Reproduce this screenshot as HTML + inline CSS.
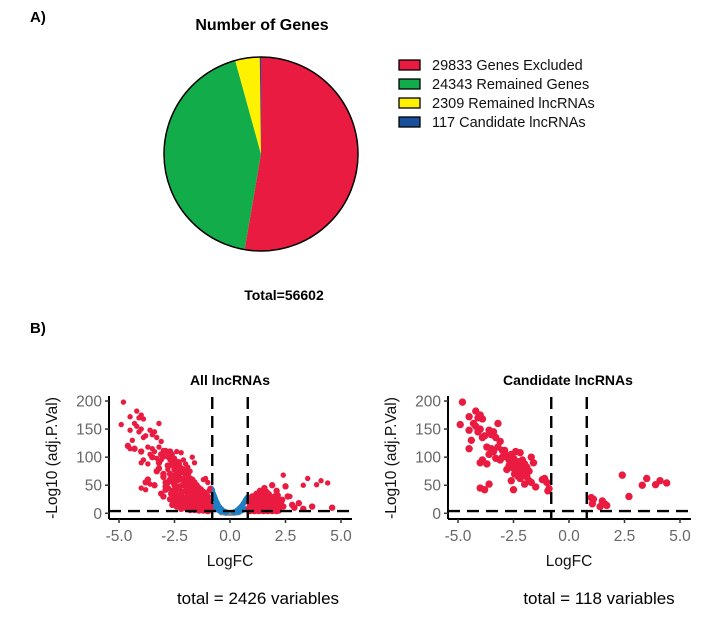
<!DOCTYPE html>
<html><head><meta charset="utf-8"><style>
body{margin:0;background:#fff}
svg{display:block;font-family:"Liberation Sans",Arial,sans-serif}
</style></head><body>
<svg id="fig" width="712" height="626" viewBox="0 0 712 626">
<text x="30" y="22" font-size="15" font-weight="bold">A)</text>
<text x="262" y="30" font-size="16" font-weight="bold" text-anchor="middle">Number of Genes</text>
<g id="pie"></g>
<g id="legend"></g>
<text x="284" y="300" font-size="14" font-weight="bold" text-anchor="middle">Total=56602</text>
<text x="30" y="333" font-size="15" font-weight="bold">B)</text>
<text x="230" y="385" font-size="14" font-weight="bold" text-anchor="middle">All lncRNAs</text>
<text x="568" y="385" font-size="14" font-weight="bold" text-anchor="middle">Candidate lncRNAs</text>
<g id="left"></g>
<g id="right"></g>
<text x="258" y="604" font-size="17" text-anchor="middle">total = 2426 variables</text>
<text x="599" y="604" font-size="17" text-anchor="middle">total = 118 variables</text>
</svg>
<script>
const pieLabels=["29833 Genes Excluded","24343 Remained Genes","2309 Remained lncRNAs","117 Candidate lncRNAs"];
const pieValues=[29833,24343,2309,117];
const pieColors=["#EA1B40","#13AC4B","#FFF200","#1A4F9C"];

const candX=[-4.8,-4.9,-4.5,-4.5,-4.4,-4.5,-4.2,-4.1,-4.0,-3.9,-4.2,-4.0,-4.1,-3.9,-3.6,-3.5,-3.4,-3.2,-3.3,-3.1,-3.7,-3.5,-3.4,-3.2,-3.0,-2.9,-2.8,-3.1,-3.0,-2.7,-2.6,-2.5,-2.4,-2.3,-2.2,-2.1,-2.0,-1.9,-2.6,-2.5,-2.4,-2.2,-2.1,-2.0,-1.8,-1.7,-1.6,-1.9,-1.8,-1.7,-1.5,-1.2,-1.1,-1.0,-0.9,-2.6,-2.5,-2.3,-2.2,-2.0,-3.9,-4.0,-3.7,-4.0,-3.8,-3.6,-2.8,-2.7,-3.3,-3.6,-0.95,1.0,1.1,1.05,1.4,1.5,1.6,1.7,2.4,2.7,3.3,3.5,3.9,4.1,4.4,-2.3,-2.9,-3.8,-4.3,-2.45,-1.95];
const candY=[198,158,172,148,130,115,182,170,175,168,155,150,145,135,148,140,145,160,135,128,118,115,110,118,112,108,100,95,100,95,105,98,110,92,108,95,88,82,88,80,75,80,72,68,75,100,90,65,58,55,47,60,62,55,44,58,42,66,62,52,95,90,88,45,42,52,78,85,98,105,40,28,25,17,12,22,17,14,68,30,50,62,51,58,54,85,112,138,160,70,78];

const extraX=[-4.6,-4.3,-4.0,-3.8,-3.7,-3.5,-3.4,-3.3,-3.2,-3.1,-3.0,-2.9,-2.8,-2.8,-2.7,-2.6,-2.6,-2.5,-2.5,-2.4,-2.4,-2.3,-2.3,-2.2,-2.2,-2.1,-2.1,-2.0,-2.0,-2.0,-1.9,-1.9,-1.9,-1.8,-1.8,-1.8,-1.7,-1.7,-1.7,-1.6,-1.6,-1.6,-1.5,-1.5,-1.5,-1.4,-1.4,-1.4,-1.3,-1.3,-1.3,-1.2,-1.2,-1.2,-1.1,-1.1,-1.1,-1.0,-1.0,-1.0,-0.9,-0.9,-0.9,-2.7,-2.5,-2.3,-2.1,-1.9,-1.7,-1.5,-1.3,-1.1,-2.4,-2.2,-2.0,-1.8,-1.6,-1.4,-1.2,-1.0,-2.9,-3.0,-2.6,-2.2,-1.85,-1.65,-1.45,-1.25,-1.05,-0.95,-1.55,-1.35,-1.15,
0.85,0.9,0.95,1.0,1.0,1.05,1.1,1.1,1.15,1.2,1.2,1.25,1.3,1.3,1.35,1.4,1.4,1.45,1.5,1.5,1.55,1.6,1.6,1.65,1.7,1.7,1.75,1.8,1.8,1.85,1.9,1.9,2.0,2.0,2.1,2.1,2.2,2.2,2.3,2.4,2.5,2.6,2.8,2.9,3.1,3.3,3.7,4.6,1.0,1.2,1.4,1.6,1.8,2.0,2.2,0.9,1.1,1.3,1.5,1.7,1.9,2.1];
const extraY=[120,115,110,55,60,100,50,75,90,35,65,42,85,55,70,40,65,50,78,30,58,45,70,35,60,25,50,20,40,65,15,35,55,12,28,48,10,25,45,8,22,40,10,20,35,8,18,30,6,15,28,8,14,24,6,12,20,6,10,18,6,10,14,25,30,22,28,20,18,15,12,10,12,8,10,6,6,5,5,4,48,30,15,14,10,8,7,6,5,5,25,22,18,
8,12,5,18,10,25,7,15,32,10,20,28,6,14,40,9,22,35,6,18,45,10,28,38,6,20,30,12,24,8,18,50,10,30,15,40,8,25,20,12,48,30,15,10,18,8,12,10,6,5,5,5,5,5,5,4,4,4,4,4,4,4];

const denseX=[-2.8,-2.7,-2.65,-2.55,-2.45,-2.35,-2.25,-2.15,-2.05,-1.95,-1.85,-1.75,-1.65,-1.55,-1.45,-1.35,-1.25,-1.15,-1.05,-0.95,-2.75,-2.6,-2.4,-2.2,-2.0,-1.8,-1.6,-1.4,-1.2,-1.0,-2.5,-2.3,-2.1,-1.9,-1.7,-1.5,-1.3,-1.1,-0.9,-2.35,-2.15,-1.95,-1.75,-1.55,-1.35,-1.15,-0.95,-2.0,-1.8,-1.6,-1.4,-1.2,-1.0,-3.2,-3.0,-2.9,-3.1,-2.7,-2.5,-2.3,-2.1,-1.9,-1.7,-1.5,-1.3,-1.1,
0.85,0.95,1.05,1.15,1.25,1.35,1.45,1.55,1.65,1.75,1.85,1.95,2.05,2.15,2.25,2.35,0.9,1.1,1.3,1.5,1.7,1.9,2.1,2.3,1.0,1.2,1.4,1.6,1.8,2.0,1.15,1.35,1.55,1.75];
const denseY=[45,60,35,55,40,62,48,38,52,42,32,40,30,36,26,30,22,26,18,20,100,90,85,80,72,62,55,45,38,30,20,18,15,14,12,10,10,8,8,30,28,24,20,16,14,12,10,58,50,44,40,32,26,80,70,55,105,110,95,88,78,70,60,50,42,35,
20,15,22,12,26,18,30,14,24,34,16,26,20,32,14,24,10,12,14,10,12,14,10,12,30,35,28,22,26,16,8,7,8,8];

const blueX=[-0.85,-0.8,-0.78,-0.75,-0.72,-0.7,-0.68,-0.65,-0.62,-0.6,-0.57,-0.55,-0.52,-0.5,-0.47,-0.45,-0.42,-0.4,-0.37,-0.35,-0.32,-0.3,-0.27,-0.25,-0.22,-0.2,-0.17,-0.15,-0.8,-0.75,-0.7,-0.65,-0.6,-0.55,-0.5,-0.45,-0.4,-0.35,0.15,0.18,0.2,0.23,0.25,0.28,0.3,0.33,0.35,0.38,0.4,0.43,0.45,0.48,0.5,0.53,0.55,0.58,0.6,0.63,0.65,0.68,0.7,0.72,0.75,0.78,0.8,0.3,0.4,0.5,0.6,0.7];
const blueY=[45,42,38,35,32,30,28,25,22,20,18,16,14,12,11,10,9,8,7,6,5,4,4,3,3,2,2,2,15,12,10,10,8,6,5,4,3,3,2,2,2,3,3,4,5,5,6,7,8,9,10,11,12,13,14,16,17,19,20,22,24,25,27,28,29,2,3,4,6,8];
const greyX=[-0.3,-0.25,-0.2,-0.15,-0.1,-0.05,0,0.05,0.1,0.15,0.2,0.25,0.3,-0.2,0.2,-0.4,0.4];
const greyY=[1,0.8,0.6,0.5,0.4,0.3,0.2,0.3,0.4,0.5,0.6,0.8,1,0.2,0.2,1.2,1.2];

const xTicks=[-5,-2.5,0,2.5,5];
const xTickLabels=["-5.0","-2.5","0.0","2.5","5.0"];
const yTicks=[0,50,100,150,200];

const NS="http://www.w3.org/2000/svg";
function mk(tag,attrs,parent){const e=document.createElementNS(NS,tag);for(const k in attrs)e.setAttribute(k,attrs[k]);parent.appendChild(e);return e;}

const pie=document.getElementById('pie');
const cx=261,cy=154,R=97;
const tot=pieValues.reduce((a,b)=>a+b,0);
let ang=0;
pieValues.forEach((v,i)=>{
  const a0=ang,a1=ang+v/tot*2*Math.PI;ang=a1;
  const x0=cx+R*Math.sin(a0),y0=cy-R*Math.cos(a0),x1=cx+R*Math.sin(a1),y1=cy-R*Math.cos(a1);
  const large=(a1-a0)>Math.PI?1:0;
  const p=mk('path',{d:`M${cx},${cy}L${x0},${y0}A${R},${R} 0 ${large} 1 ${x1},${y1}Z`,fill:pieColors[i]},pie);
  
  
});
mk('circle',{cx:cx,cy:cy,r:R,fill:'none',stroke:'#000','stroke-width':1.5},pie);
const leg=document.getElementById('legend');
pieLabels.forEach((l,i)=>{
  const y=65+i*19;
  const g=mk('g',{},leg);
  
  
  mk('rect',{x:399,y:y-5,width:21,height:10,fill:pieColors[i],stroke:'#000','stroke-width':1.3},g);
  const t=mk('text',{x:432,y:y+5,'font-size':14.5,fill:'#111'},g);t.textContent=l;
});

function volcano(gid,ox,r,layers){
  const g=document.getElementById(gid);
  const xs=v=>ox+(v+5)*22.2;
  const ys=v=>513.3-v*0.5615;
  const axX=ox-10,axRight=ox+233,axBottom=519;
  layers.forEach(L=>{
    L.x.forEach((xv,i)=>{
      const c=mk('circle',{cx:xs(xv),cy:ys(L.y[i]),r:L.r||r,fill:L.c},g);
      
      
    });
  });
  const dash={stroke:'#000','stroke-width':2.4,'stroke-dasharray':'12,7',fill:'none'};
  mk('line',Object.assign({x1:xs(-0.8),x2:xs(-0.8),y1:397,y2:axBottom},dash),g);
  mk('line',Object.assign({x1:xs(0.8),x2:xs(0.8),y1:397,y2:axBottom},dash),g);
  mk('line',Object.assign({x1:axX,x2:axRight,y1:ys(4),y2:ys(4)},dash),g);
  mk('line',{x1:axX,x2:axX,y1:396,y2:axBottom,stroke:'#000','stroke-width':2},g);
  mk('line',{x1:axX,x2:axRight,y1:axBottom,y2:axBottom,stroke:'#000','stroke-width':2},g);
  xTicks.forEach((t,i)=>{
    mk('line',{x1:xs(t),x2:xs(t),y1:axBottom,y2:axBottom+4,stroke:'#333','stroke-width':1.5},g);
    const tx=mk('text',{x:xs(t),y:axBottom+22,'font-size':15.5,fill:'#666','text-anchor':'middle'},g);tx.textContent=xTickLabels[i];
    
  });
  yTicks.forEach(t=>{
    mk('line',{x1:axX-4,x2:axX,y1:ys(t),y2:ys(t),stroke:'#333','stroke-width':1.5},g);
    const ty=mk('text',{x:axX-7,y:ys(t)+5.5,'font-size':15.5,fill:'#666','text-anchor':'end'},g);ty.textContent=t;
    
  });
  const xl=mk('text',{x:xs(0),y:566,'font-size':15.5,fill:'#111','text-anchor':'middle'},g);xl.textContent='LogFC';
  
  const yl=mk('text',{x:0,y:0,'font-size':15.5,fill:'#111','text-anchor':'middle',transform:`translate(${axX-52},458) rotate(-90)`},g);yl.textContent='-Log10 (adj.P.Val)';
  
}
volcano('left',119,2.7,[{x:greyX,y:greyY,c:'#888'},{x:blueX,y:blueY,c:'#1F7FC4'},{x:denseX,y:denseY,c:'#EA1B40',r:3.2},{x:extraX,y:extraY,c:'#EA1B40',r:3.2},{x:candX,y:candY,c:'#EA1B40'}]);
volcano('right',458,3.7,[{x:candX,y:candY,c:'#EA1B40'}]);
</script>
</body></html>
